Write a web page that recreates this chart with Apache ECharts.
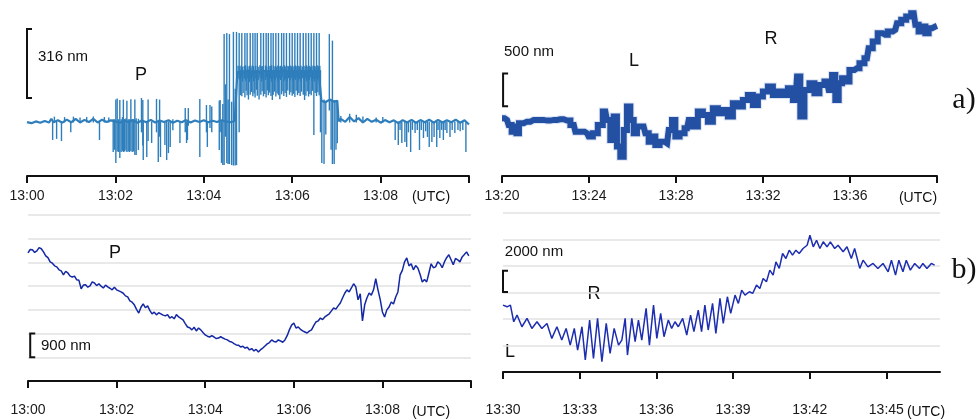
<!DOCTYPE html>
<html>
<head>
    <meta charset="utf-8" />
    <title>ECharts</title>
    <script src="https://cdn.jsdelivr.net/npm/echarts@6/dist/echarts.min.js"></script>
    <style>
        body { margin: 0; background: #fff; }
    </style>
</head>
<body>
    <div id="main" style="width: 980px;height:419px;"></div>
    <script type="text/javascript">
        // time axis: minutes after each panel's start (13:00, 13:20, 13:00, 13:30)
        var ticksA1 = [0, 2, 4, 6, 8, 10];
        var labelsA1 = ['13:00', '13:02', '13:04', '13:06', '13:08'];
        var ticksA2 = [0, 4, 8, 12, 16, 20];
        var labelsA2 = ['13:20', '13:24', '13:28', '13:32', '13:36'];
        var ticksB1 = [0, 2, 4, 6, 8, 10];
        var labelsB1 = ['13:00', '13:02', '13:04', '13:06', '13:08'];
        var ticksB2 = [0, 3, 6, 9, 12, 15];
        var labelsB2 = ['13:30', '13:33', '13:36', '13:39', '13:42', '13:45'];

        // a) left: level of the trace [min, nm]
        var levelA1 = [
            [0.00, 247], [0.10, 242], [0.20, 250], [0.30, 244], [0.40, 252], [0.50, 245], [0.55, 262], [0.60, 246],
            [0.70, 255], [0.80, 244], [0.90, 258], [1.00, 246], [1.10, 262], [1.20, 245], [1.30, 257], [1.40, 247],
            [1.50, 262], [1.60, 245], [1.70, 258], [1.80, 247], [1.90, 255], [2.00, 250], [2.10, 244], [2.20, 255],
            [2.30, 246], [2.40, 256], [2.50, 244], [2.60, 254], [2.70, 246], [2.80, 257], [2.90, 245], [3.00, 254],
            [3.10, 247], [3.20, 255], [3.30, 244], [3.40, 253], [3.50, 246], [3.60, 256], [3.70, 245], [3.80, 254],
            [3.90, 247], [4.00, 255], [4.10, 246], [4.20, 253], [4.30, 247], [4.40, 255], [4.50, 250], [4.60, 246],
            [4.70, 252], [4.74, 250], [4.76, 476], [4.80, 482], [4.90, 472], [5.00, 484], [5.10, 470], [5.20, 480],
            [5.30, 472], [5.40, 483], [5.50, 471], [5.60, 480], [5.70, 473], [5.80, 484], [5.90, 470], [6.00, 481],
            [6.10, 472], [6.20, 482], [6.30, 471], [6.40, 480], [6.50, 474], [6.60, 478], [6.64, 476], [6.66, 345],
            [6.75, 338], [6.85, 350], [6.95, 340], [7.02, 345], [7.05, 250], [7.10, 262], [7.20, 248], [7.30, 270],
            [7.40, 250], [7.50, 265], [7.60, 245], [7.70, 262], [7.80, 248], [7.90, 258], [8.00, 244], [8.10, 256],
            [8.20, 246], [8.30, 255], [8.40, 242], [8.50, 256], [8.60, 245], [8.70, 257], [8.80, 244], [8.90, 256],
            [9.00, 246], [9.10, 258], [9.20, 244], [9.30, 257], [9.40, 245], [9.50, 255], [9.60, 246], [9.70, 258],
            [9.80, 244], [9.90, 255], [10.00, 236]
        ];
        // a) left: vertical excursions [min, low nm, high nm]
        var spikesA1 = [
            [0.58, 165, 250], [0.62, 245, 272], [0.67, 170, 250], [0.78, 160, 250], [0.85, 245, 270], [0.99, 200, 250],
            [1.05, 245, 272], [1.20, 245, 268], [1.35, 245, 270], [1.50, 245, 272], [1.64, 165, 250], [1.75, 245, 270],
            [1.85, 245, 268],
            [1.95, 110, 260], [1.98, 120, 260], [2.01, 60, 350], [2.04, 112, 355], [2.07, 110, 260], [2.10, 82, 348],
            [2.13, 110, 260], [2.16, 115, 270], [2.18, 110, 350], [2.21, 112, 260], [2.24, 118, 265], [2.26, 110, 345],
            [2.29, 112, 260], [2.32, 110, 260], [2.35, 115, 352], [2.38, 110, 260], [2.41, 112, 260], [2.44, 96, 350],
            [2.47, 96, 265], [2.52, 119, 262], [2.59, 200, 357], [2.62, 140, 348], [2.63, 73, 250], [2.71, 87, 250],
            [2.74, 160, 350], [2.82, 151, 250], [2.93, 200, 353], [2.97, 64, 250], [3.00, 180, 350], [3.02, 87, 250],
            [3.12, 142, 250], [3.16, 73, 250], [3.20, 105, 250], [3.24, 133, 250], [3.30, 210, 260], [3.46, 151, 250],
            [3.58, 200, 311], [3.61, 151, 250], [3.63, 165, 250], [3.65, 230, 311], [3.91, 87, 353], [4.06, 200, 325],
            [4.08, 133, 250], [4.14, 220, 325], [4.18, 200, 318], [4.35, 119, 345], [4.37, 200, 348], [4.40, 60, 250],
            [4.43, 50, 330], [4.46, 50, 650], [4.49, 180, 420], [4.52, 60, 655], [4.55, 55, 350], [4.58, 55, 650],
            [4.63, 50, 340], [4.67, 48, 660], [4.71, 48, 400], [4.74, 50, 660],
            [4.80, 200, 655], [4.83, 370, 485], [4.86, 365, 655], [4.89, 380, 485], [4.93, 360, 655], [4.96, 390, 485],
            [4.98, 370, 655], [5.01, 350, 485], [5.05, 372, 655], [5.08, 385, 485], [5.11, 365, 655], [5.14, 378, 485],
            [5.16, 360, 655], [5.19, 395, 485], [5.21, 368, 655], [5.25, 350, 485], [5.29, 372, 655], [5.32, 388, 485],
            [5.35, 365, 655], [5.38, 376, 485], [5.41, 360, 655], [5.44, 392, 485], [5.46, 370, 655], [5.49, 382, 485],
            [5.52, 366, 655], [5.55, 348, 485], [5.57, 372, 655], [5.60, 386, 485], [5.63, 364, 655], [5.66, 378, 485],
            [5.69, 370, 655], [5.72, 352, 485], [5.76, 374, 655], [5.79, 388, 485], [5.81, 366, 655], [5.84, 380, 485],
            [5.87, 362, 655], [5.90, 392, 485], [5.94, 372, 655], [5.97, 384, 485], [6.00, 368, 655], [6.03, 376, 485],
            [6.06, 362, 655], [6.09, 390, 485], [6.12, 370, 655], [6.15, 380, 485], [6.18, 366, 655], [6.21, 386, 485],
            [6.25, 372, 655], [6.28, 348, 485], [6.31, 368, 655], [6.34, 388, 485], [6.37, 364, 655], [6.40, 376, 485],
            [6.43, 370, 655], [6.46, 390, 485], [6.49, 188, 655], [6.52, 380, 485], [6.55, 366, 655], [6.58, 384, 485],
            [6.61, 370, 655], [6.64, 200, 485],
            [6.67, 60, 348], [6.72, 55, 350], [6.76, 190, 345], [6.84, 300, 650], [6.88, 120, 350], [6.91, 55, 620],
            [6.95, 55, 348], [6.99, 120, 348], [7.02, 150, 345],
            [7.10, 245, 275], [7.30, 245, 285], [7.45, 245, 280], [7.60, 245, 272], [7.90, 245, 268], [8.05, 245, 270],
            [8.33, 165, 250], [8.40, 142, 250], [8.44, 211, 250], [8.48, 151, 250], [8.55, 156, 250], [8.59, 133, 250],
            [8.63, 200, 250], [8.68, 110, 250], [8.72, 211, 250], [8.78, 197, 250], [8.83, 211, 250], [8.88, 119, 250],
            [8.92, 211, 250], [8.97, 174, 250], [9.02, 205, 250], [9.06, 179, 250], [9.10, 133, 250], [9.16, 156, 250],
            [9.21, 179, 250], [9.27, 133, 250], [9.30, 211, 250], [9.34, 174, 250], [9.38, 211, 250], [9.42, 165, 250],
            [9.46, 211, 250], [9.50, 197, 250], [9.57, 179, 250], [9.62, 211, 250], [9.68, 197, 250], [9.75, 211, 250],
            [9.80, 205, 250], [9.86, 211, 250], [9.93, 110, 250]
        ];
        // a) left: fast flicker inside the raised band [min, low nm, high nm]
        var bandA1 = [
            [4.775, 445, 505], [4.815, 438, 502], [4.845, 450, 506], [4.875, 432, 500], [4.915, 446, 504],
            [4.945, 436, 507], [4.995, 448, 502], [5.030, 430, 505], [5.065, 444, 500], [5.095, 452, 506],
            [5.125, 434, 503], [5.175, 446, 505], [5.230, 438, 500], [5.270, 450, 507], [5.305, 432, 502],
            [5.335, 444, 504], [5.395, 440, 506], [5.425, 452, 501], [5.475, 436, 505], [5.505, 446, 503],
            [5.535, 430, 507], [5.585, 448, 502], [5.615, 438, 505], [5.645, 450, 500], [5.675, 434, 506],
            [5.705, 446, 503], [5.740, 440, 505], [5.775, 452, 502], [5.825, 436, 507], [5.855, 444, 501],
            [5.885, 432, 505], [5.920, 448, 503], [5.955, 438, 506], [5.985, 450, 502], [6.015, 434, 505],
            [6.045, 446, 500], [6.075, 440, 507], [6.105, 452, 503], [6.135, 436, 505], [6.165, 444, 502],
            [6.195, 430, 506], [6.230, 448, 501], [6.265, 438, 505], [6.295, 450, 503], [6.325, 434, 507],
            [6.355, 446, 502], [6.385, 440, 505], [6.415, 452, 500], [6.445, 436, 506], [6.475, 444, 503],
            [6.505, 432, 505], [6.535, 448, 502], [6.565, 438, 507], [6.595, 450, 503], [6.625, 440, 505]
        ];

        // a) right [min after 13:20, nm]
        var traceA2 = [
            [0.00, 882], [0.23, 857], [0.38, 780], [0.51, 678], [0.61, 755], [0.72, 653], [0.84, 806], [1.15, 831],
            [1.46, 857], [1.76, 857], [2.07, 847], [2.38, 857], [2.68, 867], [2.99, 847], [3.30, 780], [3.45, 678],
            [3.68, 678], [3.91, 653], [4.06, 602], [4.29, 653], [4.52, 780], [4.75, 984], [4.90, 857], [5.06, 551],
            [5.21, 908], [5.36, 449], [5.52, 296], [5.67, 704], [5.82, 1061], [5.98, 857], [6.13, 653], [6.28, 755],
            [6.51, 755], [6.67, 653], [6.82, 525], [6.97, 602], [7.13, 474], [7.36, 525], [7.59, 500], [7.74, 704],
            [7.89, 857], [8.05, 602], [8.28, 653], [8.51, 729], [8.66, 857], [8.89, 755], [9.12, 984], [9.35, 933],
            [9.58, 831], [9.81, 1035], [10.04, 959], [10.27, 1010], [10.50, 908], [10.73, 1112], [10.96, 1061],
            [11.19, 1163], [11.42, 1239], [11.65, 1086], [11.88, 1214], [12.11, 1290], [12.34, 1367], [12.57, 1239],
            [12.80, 1290], [13.03, 1239], [13.26, 1341], [13.49, 1163], [13.64, 1520], [13.79, 908], [14.02, 1316],
            [14.25, 1418], [14.48, 1265], [14.71, 1392], [14.94, 1443], [15.10, 1316], [15.25, 1545], [15.40, 1163],
            [15.56, 1418], [15.71, 1494], [15.86, 1443], [16.09, 1622], [16.32, 1647], [16.55, 1724], [16.78, 1800],
            [16.93, 1953], [17.16, 2055], [17.39, 2183], [17.62, 2157], [17.85, 2208], [18.08, 2234], [18.24, 2336],
            [18.47, 2387], [18.70, 2438], [18.93, 2489], [19.08, 2310], [19.23, 2208], [19.39, 2285], [19.54, 2183],
            [19.69, 2259], [19.85, 2285], [20.00, 2295]
        ];

        // b) left [min after 13:00, nm]
        var traceB1 = [
            [0.0, 4860], [0.05, 4990], [0.1, 4980], [0.15, 4880], [0.2, 4940], [0.25, 5060], [0.3, 5020], [0.35, 4900],
            [0.4, 4750], [0.45, 4680], [0.5, 4520], [0.55, 4470], [0.6, 4370], [0.65, 4330], [0.7, 4220], [0.75, 4180],
            [0.8, 4030], [0.85, 4160], [0.9, 4100], [0.95, 3980], [1.0, 3950], [1.05, 3980], [1.1, 3840], [1.15, 3820],
            [1.2, 3500], [1.25, 3640], [1.3, 3650], [1.35, 3560], [1.4, 3610], [1.45, 3760], [1.5, 3720], [1.55, 3620],
            [1.6, 3690], [1.65, 3600], [1.7, 3530], [1.75, 3640], [1.8, 3570], [1.85, 3520], [1.9, 3460], [1.95, 3560],
            [2.0, 3460], [2.05, 3420], [2.1, 3380], [2.15, 3330], [2.2, 3230], [2.25, 3190], [2.3, 3040], [2.35, 2990],
            [2.4, 2890], [2.45, 2720], [2.5, 2580], [2.55, 2800], [2.6, 2930], [2.65, 2780], [2.7, 2850], [2.75, 2680],
            [2.8, 2550], [2.85, 2610], [2.9, 2510], [2.95, 2590], [3.0, 2550], [3.05, 2500], [3.1, 2470], [3.15, 2520],
            [3.2, 2390], [3.25, 2440], [3.3, 2360], [3.35, 2520], [3.4, 2430], [3.45, 2380], [3.5, 2320], [3.55, 2180],
            [3.6, 2050], [3.65, 2020], [3.7, 1940], [3.75, 2040], [3.8, 1900], [3.85, 2010], [3.9, 1940], [3.95, 1840],
            [4.0, 1750], [4.05, 1700], [4.1, 1670], [4.15, 1720], [4.2, 1670], [4.25, 1610], [4.3, 1630], [4.35, 1680],
            [4.4, 1630], [4.45, 1590], [4.5, 1560], [4.55, 1500], [4.6, 1480], [4.65, 1420], [4.7, 1370], [4.75, 1360],
            [4.8, 1290], [4.85, 1320], [4.9, 1250], [4.95, 1280], [5.0, 1180], [5.05, 1230], [5.1, 1140], [5.15, 1200],
            [5.2, 1100], [5.25, 1190], [5.3, 1250], [5.35, 1330], [5.4, 1410], [5.45, 1460], [5.5, 1560], [5.55, 1500],
            [5.6, 1480], [5.65, 1560], [5.7, 1520], [5.75, 1470], [5.8, 1560], [5.85, 1720], [5.9, 1940], [5.95, 2120],
            [6.0, 2200], [6.05, 2010], [6.1, 2050], [6.15, 1960], [6.2, 1900], [6.25, 1860], [6.3, 1820], [6.35, 1890],
            [6.4, 1940], [6.45, 2100], [6.5, 2240], [6.55, 2280], [6.6, 2390], [6.65, 2330], [6.7, 2430], [6.75, 2490],
            [6.8, 2550], [6.85, 2660], [6.9, 2770], [6.95, 2730], [7.0, 2850], [7.05, 2960], [7.1, 3150], [7.15, 3330],
            [7.2, 3460], [7.25, 3380], [7.3, 3530], [7.35, 3690], [7.4, 3570], [7.45, 3080], [7.5, 3310], [7.55, 2280],
            [7.6, 2890], [7.65, 3150], [7.7, 3340], [7.75, 3260], [7.8, 3460], [7.85, 3880], [7.9, 3460], [7.95, 3100],
            [8.0, 2620], [8.05, 2430], [8.1, 2700], [8.15, 2810], [8.2, 3000], [8.25, 2920], [8.3, 3190], [8.35, 3380],
            [8.4, 4030], [8.45, 4200], [8.5, 4520], [8.55, 4670], [8.6, 4370], [8.65, 4450], [8.7, 4220], [8.75, 4380],
            [8.8, 4290], [8.85, 4050], [8.9, 3760], [8.95, 3850], [9.0, 3760], [9.05, 4100], [9.1, 4450], [9.15, 4300],
            [9.2, 4330], [9.25, 4520], [9.3, 4450], [9.35, 4300], [9.4, 4520], [9.45, 4680], [9.5, 4790], [9.55, 4600],
            [9.6, 4410], [9.65, 4650], [9.7, 4600], [9.75, 4520], [9.8, 4710], [9.85, 4800], [9.9, 4900], [9.95, 4750]
        ];

        // b) right [min after 13:30, nm]
        var traceB2 = [
            [0.00, 6310], [0.16, 6150], [0.29, 6310], [0.42, 4740], [0.55, 5370], [0.74, 4270], [0.94, 5060], [1.13, 4110],
            [1.33, 4740], [1.52, 4110], [1.72, 4580], [1.91, 3170], [2.11, 4270], [2.30, 3010], [2.47, 4110], [2.63, 2540],
            [2.79, 4110], [2.92, 2070], [3.09, 4270], [3.22, 1130], [3.39, 4900], [3.54, 1290], [3.70, 5060], [3.87, 970],
            [4.04, 4580], [4.19, 1760], [4.35, 4110], [4.52, 2540], [4.65, 3010], [4.78, 5060], [4.87, 1600], [5.04, 5060],
            [5.17, 2860], [5.30, 4900], [5.43, 3010], [5.60, 6000], [5.73, 2540], [5.89, 6310], [6.02, 3170], [6.17, 5530],
            [6.30, 3330], [6.47, 4900], [6.60, 4110], [6.73, 4740], [6.86, 4270], [7.03, 5060], [7.19, 3490], [7.34, 5370],
            [7.47, 3800], [7.64, 5840], [7.77, 3800], [7.90, 6310], [8.03, 3960], [8.20, 6470], [8.33, 3640], [8.49, 6940],
            [8.62, 4580], [8.78, 7100], [8.91, 5530], [9.08, 7250], [9.21, 6470], [9.34, 7720], [9.47, 7250], [9.64, 7570],
            [9.77, 7410], [9.92, 8200], [10.05, 7880], [10.18, 8820], [10.31, 8510], [10.44, 9610], [10.57, 9140],
            [10.68, 10390], [10.81, 9770], [10.94, 11180], [11.07, 10710], [11.20, 11490], [11.33, 11020], [11.46, 11490],
            [11.59, 11180], [11.74, 11650], [11.90, 11960], [12.01, 12900], [12.14, 11810], [12.27, 12430], [12.40, 11650],
            [12.53, 12280], [12.68, 11810], [12.81, 12280], [12.98, 11650], [13.11, 11960], [13.31, 11340], [13.46, 11810],
            [13.63, 10710], [13.76, 11650], [13.96, 9770], [14.09, 10550], [14.28, 9920], [14.48, 10240], [14.67, 9770],
            [14.87, 10240], [15.07, 9450], [15.20, 10550], [15.36, 9140], [15.49, 10550], [15.65, 9450], [15.78, 10550],
            [15.94, 9610], [16.11, 10240], [16.30, 9770], [16.43, 10240], [16.59, 9770], [16.76, 10240], [16.89, 10080]
        ];

        // scale bars [min, low nm, high nm]
        var barA1 = [[0, 357, 673]];
        var barA2 = [[0.05, 1065, 1565]];
        var barB1 = [[0.05, 900, 1800]];
        var barB2 = [[0, 7550, 9550]];

        var font = '"Liberation Sans", Arial, sans-serif';

        function xAxisFor(idx, max, ticks, labels, offset) {
            return {
                type: 'value', gridIndex: idx, min: 0, max: max, offset: offset || 0,
                axisLine: { lineStyle: { color: '#111', width: 2 } },
                axisTick: { length: 7, lineStyle: { color: '#111', width: 2 }, customValues: ticks },
                axisLabel: {
                    customValues: ticks.slice(0, labels.length),
                    margin: 13, fontSize: 14, color: '#1a1a1a', fontFamily: font,
                    formatter: function (v) {
                        var i = ticks.indexOf(v);
                        return i >= 0 && labels[i] ? labels[i] : '';
                    }
                },
                splitLine: { show: false }
            };
        }

        function yAxisFor(idx, max, interval, grid) {
            return {
                type: 'value', gridIndex: idx, min: 0, max: max, interval: interval,
                axisLine: { show: false }, axisTick: { show: false }, axisLabel: { show: false },
                splitLine: { show: grid, lineStyle: { color: '#e2e2e2', width: 1.5 } }
            };
        }

        function bracketItem(params, api) {
            var p1 = api.coord([api.value(0), api.value(1)]);
            var p2 = api.coord([api.value(0), api.value(2)]);
            return {
                type: 'polyline',
                shape: { points: [[p1[0] + 5, p1[1]], [p1[0], p1[1]], [p2[0], p2[1]], [p2[0] + 5, p2[1]]] },
                style: { stroke: '#111', lineWidth: 2, fill: null }
            };
        }

        function spikeItem(params, api) {
            var a = api.coord([api.value(0), api.value(1)]);
            var b = api.coord([api.value(0), api.value(2)]);
            return {
                type: 'line',
                shape: { x1: a[0], y1: a[1], x2: b[0], y2: b[1] },
                style: { stroke: '#2e7ebc', lineWidth: 1.4 }
            };
        }

        function spikeSeries(data) {
            return {
                type: 'custom', xAxisIndex: 0, yAxisIndex: 0, silent: true,
                encode: { x: 0, y: [1, 2] }, renderItem: spikeItem, data: data
            };
        }

        function bracketSeries(idx, data) {
            return {
                type: 'custom', xAxisIndex: idx, yAxisIndex: idx, silent: true, clip: false,
                encode: { x: 0, y: [1, 2] }, renderItem: bracketItem, data: data
            };
        }

        function text(x, y, str, size, family) {
            return {
                type: 'text', x: x, y: y, silent: true,
                style: {
                    text: str, fill: '#111', fontSize: size, fontFamily: family || font,
                    align: 'center', verticalAlign: 'middle'
                }
            };
        }

        var myChart = echarts.init(document.getElementById('main'));

        var option = {
            animation: false,
            backgroundColor: '#fff',
            grid: [
                { left: 27, top: 0, width: 442, height: 176, containLabel: false, outerBoundsMode: 'none' },
                { left: 502, top: 0, width: 435, height: 176, containLabel: false, outerBoundsMode: 'none' },
                { left: 28, top: 215, width: 443, height: 166, containLabel: false, outerBoundsMode: 'none' },
                { left: 503, top: 213, width: 437, height: 159, containLabel: false, outerBoundsMode: 'none' }
            ],
            xAxis: [
                xAxisFor(0, 10, ticksA1, labelsA1, 0),
                xAxisFor(1, 20, ticksA2, labelsA2, 0),
                xAxisFor(2, 10, ticksB1, labelsB1, 9),
                xAxisFor(3, 17.1, ticksB2, labelsB2, 18)
            ],
            yAxis: [
                yAxisFor(0, 806, 100, false),
                yAxisFor(1, 2690, 500, false),
                yAxisFor(2, 6300, 900, true),
                yAxisFor(3, 15000, 2500, true)
            ],
            series: [
                spikeSeries(spikesA1),
                spikeSeries(bandA1),
                {
                    type: 'line', xAxisIndex: 0, yAxisIndex: 0, data: levelA1, symbol: 'none',
                    lineStyle: { color: '#2e7ebc', width: 2.2 }
                },
                {
                    type: 'line', xAxisIndex: 1, yAxisIndex: 1, data: traceA2, symbol: 'none', step: 'middle',
                    lineStyle: { color: '#9db3dc', width: 8, cap: 'butt', join: 'miter', opacity: 0.35 }
                },
                {
                    type: 'line', xAxisIndex: 1, yAxisIndex: 1, data: traceA2, symbol: 'none', step: 'middle',
                    lineStyle: { color: '#2350a3', width: 6, cap: 'butt', join: 'miter' }
                },
                {
                    type: 'line', xAxisIndex: 2, yAxisIndex: 2, data: traceB1, symbol: 'none',
                    lineStyle: { color: '#1428a4', width: 1.5 }
                },
                {
                    type: 'line', xAxisIndex: 3, yAxisIndex: 3, data: traceB2, symbol: 'none',
                    lineStyle: { color: '#1e2eb0', width: 1.5 }
                },
                bracketSeries(0, barA1),
                bracketSeries(1, barA2),
                bracketSeries(2, barB1),
                bracketSeries(3, barB2)
            ],
            graphic: [
                text(63, 57, '316 nm', 15),
                text(141, 75, 'P', 18),
                text(431, 197, '(UTC)', 14),
                text(529, 52, '500 nm', 15),
                text(634, 61, 'L', 18),
                text(771, 39, 'R', 18),
                text(918, 198, '(UTC)', 14),
                text(964, 100, 'a)', 30, '"Liberation Serif", "Times New Roman", serif'),
                text(115, 253, 'P', 18),
                text(66, 346, '900 nm', 15),
                text(431, 412, '(UTC)', 14),
                text(534, 252, '2000 nm', 15),
                text(594, 294, 'R', 18),
                text(510, 352, 'L', 18),
                text(926, 412, '(UTC)', 14),
                text(964, 270, 'b)', 30, '"Liberation Serif", "Times New Roman", serif')
            ]
        };

        myChart.setOption(option);
    </script>
</body>
</html>
